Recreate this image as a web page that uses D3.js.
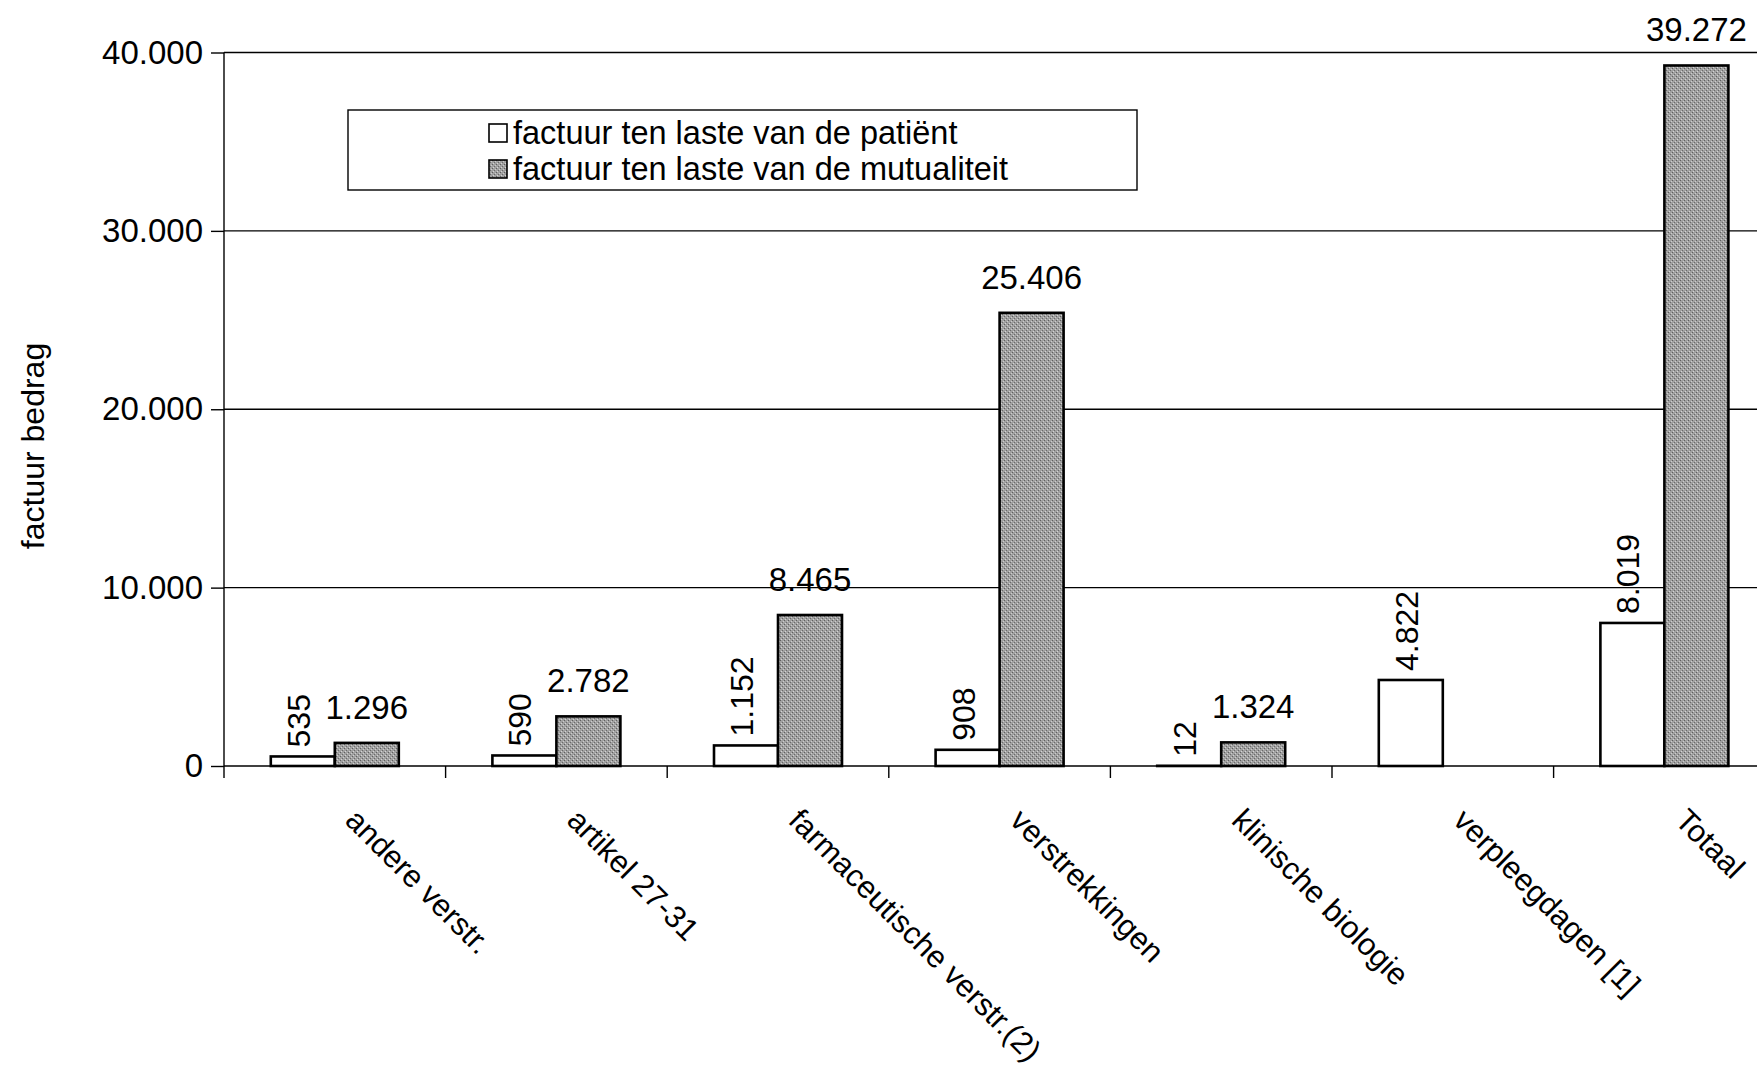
<!DOCTYPE html>
<html>
<head>
<meta charset="utf-8">
<script src="https://cdn.jsdelivr.net/npm/d3@7"></script>
<style>
  html, body { margin: 0; padding: 0; background: #fff; }
  svg { display: block; font-family: "Liberation Sans", Arial, sans-serif; }
</style>
</head>
<body>
<svg id="chart" width="1757" height="1072"></svg>
<script>
// ---- data ----
const categories = ["andere verstr.", "artikel 27-31", "farmaceutische verstr.(2)", "verstrekkingen", "klinische biologie", "verpleegdagen [1]", "Totaal"];
const patientValues = [535, 590, 1152, 908, 12, 4822, 8019];
const mutualiteitValues = [1296, 2782, 8465, 25406, 1324, null, 39272];
const seriesNames = ["factuur ten laste van de patiënt", "factuur ten laste van de mutualiteit"];
const yTicks = [0, 10000, 20000, 30000, 40000];
const yTitle = "factuur bedrag";

// ---- layout ----
const W = 1757, H = 1072;
const left = 224, baseY = 766, topY = 52.5;
const bandW = 221.6;
const svg = d3.select("#chart");
svg.append("rect").attr("width", W).attr("height", H).attr("fill", "#fff");

const locale = d3.formatLocale({decimal: ",", thousands: ".", grouping: [3], currency: ["€", ""]});
const fmt = locale.format(",d");

const x = d3.scaleBand().domain(categories).range([left, left + bandW * categories.length]).padding(0);
const y = d3.scaleLinear().domain([0, 40000]).range([baseY, topY]);
const barW = 64;

// pattern for grey bars
const defs = svg.append("defs");
const pat = defs.append("pattern").attr("id", "greyPat").attr("width", 4).attr("height", 4).attr("patternUnits", "userSpaceOnUse");
pat.append("rect").attr("width", 4).attr("height", 4).attr("fill", "#a0a0a0");
pat.append("rect").attr("x", 0).attr("y", 0).attr("width", 1).attr("height", 1).attr("fill", "#5f5f5f");
pat.append("rect").attr("x", 2).attr("y", 2).attr("width", 1).attr("height", 1).attr("fill", "#6a6a6a");
pat.append("rect").attr("x", 1).attr("y", 3).attr("width", 1).attr("height", 1).attr("fill", "#d4d4d4");
pat.append("rect").attr("x", 3).attr("y", 1).attr("width", 1).attr("height", 1).attr("fill", "#cccccc");

const FS = 33;

// gridlines
svg.append("g").selectAll("line").data(yTicks.filter(d => d > 0)).join("line")
  .attr("x1", left).attr("x2", W).attr("y1", d => y(d)).attr("y2", d => y(d))
  .attr("stroke", "#000").attr("stroke-width", 1.4);

// y axis
const yAxis = d3.axisLeft(y).tickValues(yTicks).tickFormat(d => fmt(d)).tickSize(13).tickPadding(8);
const gy = svg.append("g").attr("transform", `translate(${left},0)`).call(yAxis);
gy.select(".domain").attr("stroke", "#000").attr("stroke-width", 1.4).attr("d", `M0,${topY}V${baseY}`);
gy.selectAll(".tick line").attr("stroke", "#000").attr("stroke-width", 1.4);
gy.selectAll(".tick text").attr("font-size", FS).attr("fill", "#000").attr("font-family", "Liberation Sans, Arial, sans-serif");

// x axis
const xAxis = d3.axisBottom(x).tickSize(0).tickFormat("");
const gx = svg.append("g").attr("transform", `translate(0,${baseY})`).call(xAxis);
gx.select(".domain").attr("stroke", "#000").attr("stroke-width", 1.4).attr("d", `M${left},0H${W}`);
// category boundary ticks
const bounds = d3.range(categories.length + 1).map(i => left + i * x.step());
svg.append("g").selectAll("line").data(bounds).join("line")
  .attr("x1", d => d).attr("x2", d => d).attr("y1", baseY).attr("y2", baseY + 12)
  .attr("stroke", "#000").attr("stroke-width", 1.4);

// category labels, rotated 45°
svg.append("g").selectAll("text").data(categories).join("text")
  .attr("transform", d => `translate(${x(d) + x.bandwidth() / 2 + 9},${baseY + 56}) rotate(45)`)
  .attr("font-size", 31).attr("fill", "#000").attr("text-anchor", "start")
  .text(d => d);

// bars
const rows = categories.map((c, i) => ({c, p: patientValues[i], m: mutualiteitValues[i]}));
const g = svg.append("g");
g.selectAll("rect.pat").data(rows).join("rect").attr("class", "pat")
  .attr("x", d => x(d.c) + x.bandwidth() / 2 - barW).attr("width", barW)
  .attr("y", d => y(d.p)).attr("height", d => baseY - y(d.p))
  .attr("fill", "#fff").attr("stroke", "#000").attr("stroke-width", 2.6);
g.selectAll("rect.mut").data(rows.filter(d => d.m != null)).join("rect").attr("class", "mut")
  .attr("x", d => x(d.c) + x.bandwidth() / 2).attr("width", barW)
  .attr("y", d => y(d.m)).attr("height", d => baseY - y(d.m))
  .attr("fill", "url(#greyPat)").attr("stroke", "#000").attr("stroke-width", 2.6);

// patient labels (vertical)
g.selectAll("text.pl").data(rows).join("text").attr("class", "pl")
  .attr("transform", d => `translate(${x(d.c) + x.bandwidth() / 2 - barW / 2 + 7},${y(d.p) - 9}) rotate(-90)`)
  .attr("font-size", 32).attr("fill", "#000").attr("text-anchor", "start")
  .text(d => fmt(d.p));
// mutualiteit labels (horizontal)
g.selectAll("text.ml").data(rows.filter(d => d.m != null)).join("text").attr("class", "ml")
  .attr("x", d => x(d.c) + x.bandwidth() / 2 + barW / 2).attr("y", d => y(d.m) - 24)
  .attr("font-size", FS).attr("fill", "#000").attr("text-anchor", "middle")
  .text(d => fmt(d.m));

// y title
svg.append("text").attr("transform", `translate(44,446) rotate(-90)`)
  .attr("font-size", 32).attr("text-anchor", "middle").attr("fill", "#000").text(yTitle);

// legend
const lg = svg.append("g");
lg.append("rect").attr("x", 348).attr("y", 110).attr("width", 789).attr("height", 80)
  .attr("fill", "#fff").attr("stroke", "#000").attr("stroke-width", 1.4);
const fills = ["#fff", "url(#greyPat)"];
seriesNames.forEach((s, i) => {
  const cy = 133 + i * 36;
  lg.append("rect").attr("x", 489).attr("y", cy - 9).attr("width", 18).attr("height", 18)
    .attr("fill", fills[i]).attr("stroke", "#000").attr("stroke-width", 1.6);
  lg.append("text").attr("x", 513).attr("y", cy + 11).attr("font-size", 32.5).attr("fill", "#000").text(s);
});
</script>
</body>
</html>
